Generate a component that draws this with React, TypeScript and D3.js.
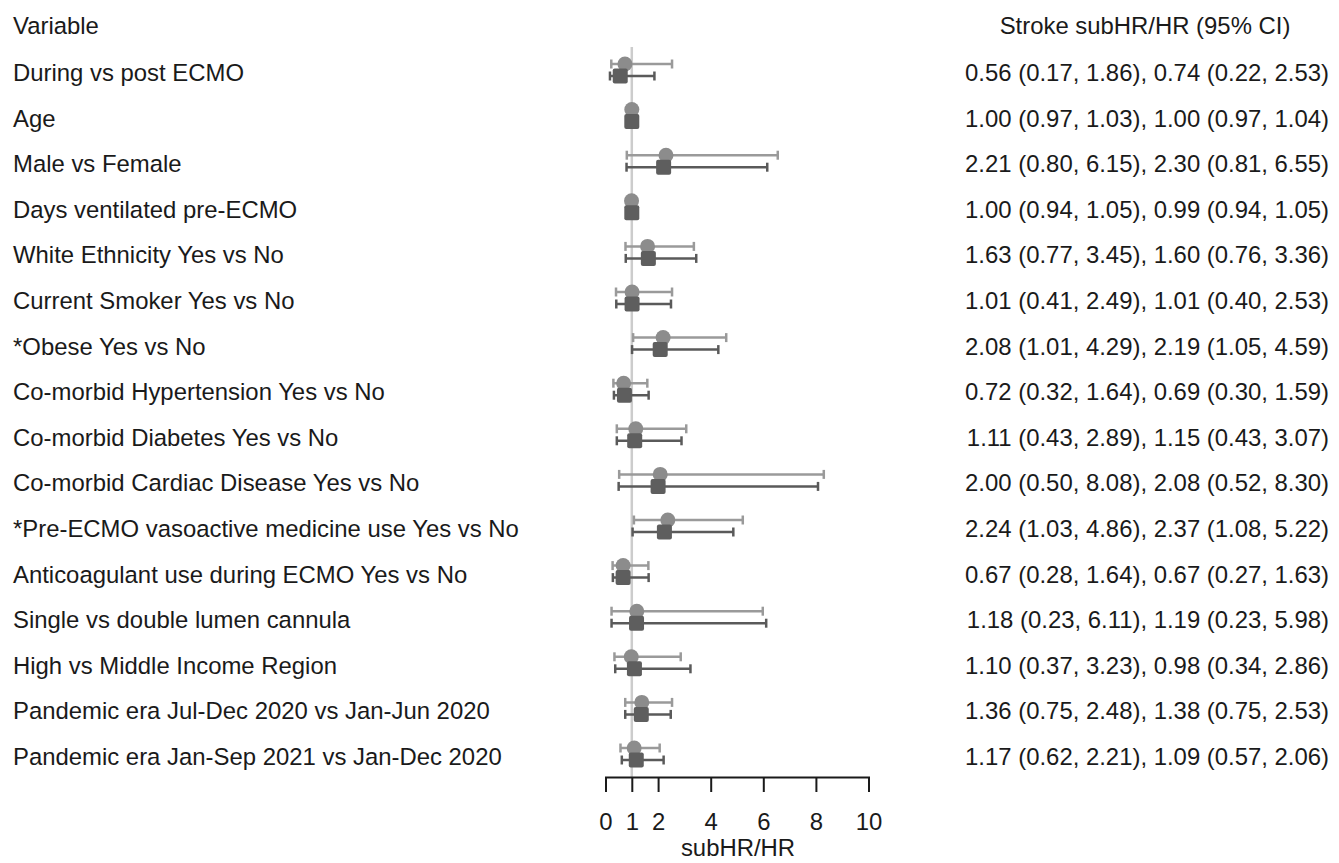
import React, { useEffect, useRef } from "react";
import * as d3 from "d3";

// row labels, top to bottom
const variables = [
  "During vs post ECMO",
  "Age",
  "Male vs Female",
  "Days ventilated pre-ECMO",
  "White Ethnicity Yes vs No",
  "Current Smoker Yes vs No",
  "*Obese Yes vs No",
  "Co-morbid Hypertension Yes vs No",
  "Co-morbid Diabetes Yes vs No",
  "Co-morbid Cardiac Disease Yes vs No",
  "*Pre-ECMO vasoactive medicine use Yes vs No",
  "Anticoagulant use during ECMO Yes vs No",
  "Single vs double lumen cannula",
  "High vs Middle Income Region",
  "Pandemic era Jul-Dec 2020 vs Jan-Jun 2020",
  "Pandemic era Jan-Sep 2021 vs Jan-Dec 2020",
];

// subHR (square markers)
const subEst = [0.56, 1.0, 2.21, 1.0, 1.63, 1.01, 2.08, 0.72, 1.11, 2.0, 2.24, 0.67, 1.18, 1.1, 1.36, 1.17];
const subLo = [0.17, 0.97, 0.8, 0.94, 0.77, 0.41, 1.01, 0.32, 0.43, 0.5, 1.03, 0.28, 0.23, 0.37, 0.75, 0.62];
const subHi = [1.86, 1.03, 6.15, 1.05, 3.45, 2.49, 4.29, 1.64, 2.89, 8.08, 4.86, 1.64, 6.11, 3.23, 2.48, 2.21];

// HR (circle markers)
const hrEst = [0.74, 1.0, 2.3, 0.99, 1.6, 1.01, 2.19, 0.69, 1.15, 2.08, 2.37, 0.67, 1.19, 0.98, 1.38, 1.09];
const hrLo = [0.22, 0.97, 0.81, 0.94, 0.76, 0.4, 1.05, 0.3, 0.43, 0.52, 1.08, 0.27, 0.23, 0.34, 0.75, 0.57];
const hrHi = [2.53, 1.04, 6.55, 1.05, 3.36, 2.53, 4.59, 1.59, 3.07, 8.3, 5.22, 1.63, 5.98, 2.86, 2.53, 2.06];

const ticks = [0, 1, 2, 4, 6, 8, 10];

export default function App() {
  const ref = useRef<SVGSVGElement>(null);

  useEffect(() => {
    const svg = d3.select(ref.current);
    svg.selectAll("*").remove();

    const width = 1339;
    const height = 863;
    const fontSize = 23.9;
    const font = "'Liberation Sans', Arial, sans-serif";
    const axisY = 777;

    const x = d3.scaleLinear().domain([0, 10]).range([605.5, 868.5]);
    const y = d3.scalePoint().domain(variables).range([73, 757]);

    const fmt = d3.format(".2f");
    const rows = variables.map((v, i) => ({
      v,
      sub: [subEst[i], subLo[i], subHi[i]],
      hr: [hrEst[i], hrLo[i], hrHi[i]],
    }));

    svg.attr("width", width).attr("height", height);
    svg.append("rect").attr("width", width).attr("height", height).attr("fill", "#fff");

    const txt = svg.append("g").attr("font-family", font).attr("font-size", fontSize).attr("fill", "#1a1a1a");

    // headers
    txt.append("text").attr("x", 13).attr("y", 34).text("Variable");
    txt.append("text").attr("x", 1145).attr("y", 34).attr("text-anchor", "middle").text("Stroke subHR/HR (95% CI)");

    // row labels and estimates
    txt.selectAll(".lab").data(rows).enter().append("text")
      .attr("x", 13)
      .attr("y", (d) => y(d.v)! + 8)
      .text((d) => d.v);

    txt.selectAll(".val").data(rows).enter().append("text")
      .attr("x", 1329)
      .attr("y", (d) => y(d.v)! + 8)
      .attr("text-anchor", "end")
      .text((d) => `${fmt(d.sub[0])} (${fmt(d.sub[1])}, ${fmt(d.sub[2])}), ${fmt(d.hr[0])} (${fmt(d.hr[1])}, ${fmt(d.hr[2])})`);

    // reference line at 1
    svg.append("line")
      .attr("x1", x(1)).attr("x2", x(1))
      .attr("y1", 47).attr("y2", axisY)
      .attr("stroke", "#cccccc").attr("stroke-width", 2.5);

    const plot = svg.append("g");

    const drawSeries = (key: "sub" | "hr", dy: number, lineCol: string) => {
      const g = plot.selectAll(`.${key}`).data(rows).enter().append("g");
      const cy = (d: any) => y(d.v)! + dy;
      g.append("line")
        .attr("x1", (d: any) => x(d[key][1])).attr("x2", (d: any) => x(d[key][2]))
        .attr("y1", cy).attr("y2", cy)
        .attr("stroke", lineCol).attr("stroke-width", 2.5);
      [1, 2].forEach((k) => {
        g.append("line")
          .attr("x1", (d: any) => x(d[key][k])).attr("x2", (d: any) => x(d[key][k]))
          .attr("y1", (d: any) => cy(d) - 4.5).attr("y2", (d: any) => cy(d) + 4.5)
          .attr("stroke", lineCol).attr("stroke-width", 2.5);
      });
      return g;
    };

    // HR circles (above), subHR squares (below)
    const hrG = drawSeries("hr", -9, "#9a9a9a");
    const subG = drawSeries("sub", 3, "#5a5a5a");

    hrG.append("circle")
      .attr("cx", (d) => x(d.hr[0]))
      .attr("cy", (d) => y(d.v)! - 9)
      .attr("r", 7.5)
      .attr("fill", "#8c8c8c");

    subG.append("rect")
      .attr("x", (d) => x(d.sub[0]) - 7.5)
      .attr("y", (d) => y(d.v)! + 3 - 7.5)
      .attr("width", 15).attr("height", 15)
      .attr("rx", 2)
      .attr("fill", "#5e5e5e");

    // x axis
    const axis = svg.append("g")
      .attr("transform", `translate(0,${axisY})`)
      .call(d3.axisBottom(x).tickValues(ticks).tickSize(15).tickSizeOuter(15).tickPadding(21).tickFormat(d3.format("d")));
    axis.select(".domain").attr("stroke", "#1a1a1a").attr("stroke-width", 2);
    axis.selectAll(".tick line").attr("stroke", "#1a1a1a").attr("stroke-width", 2);
    axis.selectAll(".tick text")
      .attr("font-family", font).attr("font-size", fontSize).attr("fill", "#1a1a1a");

    svg.append("text")
      .attr("x", (x(0) + x(10)) / 2 + 1)
      .attr("y", 856)
      .attr("text-anchor", "middle")
      .attr("font-family", font).attr("font-size", fontSize).attr("fill", "#1a1a1a")
      .text("subHR/HR");
  }, []);

  return <svg ref={ref} style={{ position: "absolute", left: 0, top: 0 }} />;
}
